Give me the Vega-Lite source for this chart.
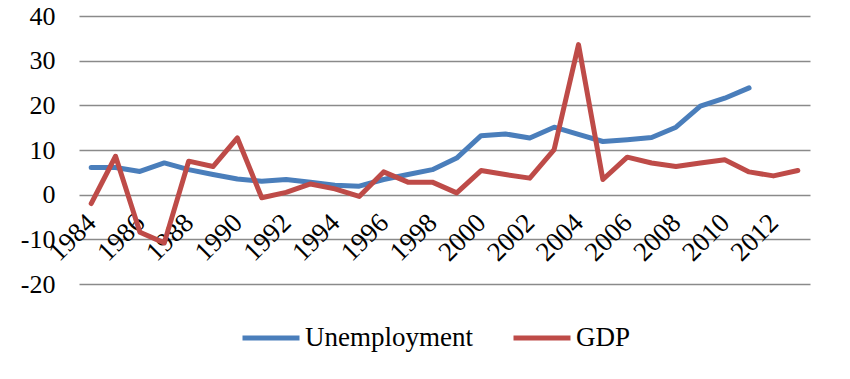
{
  "$schema": "https://vega.github.io/schema/vega-lite/v6.json",
  "autosize": "none",
  "width": 731,
  "height": 268,
  "padding": {"left": 79, "top": 16, "right": 40, "bottom": 95},
  "background": "white",
  "config": {
    "view": {"stroke": null},
    "font": "Liberation Serif",
    "axis": {"labelFont": "Liberation Serif"},
    "legend": {"labelFont": "Liberation Serif"}
  },
  "data": {
    "values": [
      {"year": "1984", "series": "Unemployment", "value": 6.1},
      {"year": "1985", "series": "Unemployment", "value": 6.1},
      {"year": "1986", "series": "Unemployment", "value": 5.2},
      {"year": "1987", "series": "Unemployment", "value": 7.1},
      {"year": "1988", "series": "Unemployment", "value": 5.6},
      {"year": "1989", "series": "Unemployment", "value": 4.5},
      {"year": "1990", "series": "Unemployment", "value": 3.5},
      {"year": "1991", "series": "Unemployment", "value": 3.0},
      {"year": "1992", "series": "Unemployment", "value": 3.4},
      {"year": "1993", "series": "Unemployment", "value": 2.8},
      {"year": "1994", "series": "Unemployment", "value": 2.1},
      {"year": "1995", "series": "Unemployment", "value": 1.9},
      {"year": "1996", "series": "Unemployment", "value": 3.4},
      {"year": "1997", "series": "Unemployment", "value": 4.5},
      {"year": "1998", "series": "Unemployment", "value": 5.6},
      {"year": "1999", "series": "Unemployment", "value": 8.2},
      {"year": "2000", "series": "Unemployment", "value": 13.2},
      {"year": "2001", "series": "Unemployment", "value": 13.6},
      {"year": "2002", "series": "Unemployment", "value": 12.7},
      {"year": "2003", "series": "Unemployment", "value": 15.1},
      {"year": "2004", "series": "Unemployment", "value": 13.5},
      {"year": "2005", "series": "Unemployment", "value": 11.9},
      {"year": "2006", "series": "Unemployment", "value": 12.3},
      {"year": "2007", "series": "Unemployment", "value": 12.8},
      {"year": "2008", "series": "Unemployment", "value": 15.1},
      {"year": "2009", "series": "Unemployment", "value": 19.8},
      {"year": "2010", "series": "Unemployment", "value": 21.6},
      {"year": "2011", "series": "Unemployment", "value": 23.9},
      {"year": "1984", "series": "GDP", "value": -2.0},
      {"year": "1985", "series": "GDP", "value": 8.6},
      {"year": "1986", "series": "GDP", "value": -8.4},
      {"year": "1987", "series": "GDP", "value": -10.8},
      {"year": "1988", "series": "GDP", "value": 7.5},
      {"year": "1989", "series": "GDP", "value": 6.3},
      {"year": "1990", "series": "GDP", "value": 12.7},
      {"year": "1991", "series": "GDP", "value": -0.7},
      {"year": "1992", "series": "GDP", "value": 0.5},
      {"year": "1993", "series": "GDP", "value": 2.4},
      {"year": "1994", "series": "GDP", "value": 1.3},
      {"year": "1995", "series": "GDP", "value": -0.4},
      {"year": "1996", "series": "GDP", "value": 5.1},
      {"year": "1997", "series": "GDP", "value": 2.8},
      {"year": "1998", "series": "GDP", "value": 2.8},
      {"year": "1999", "series": "GDP", "value": 0.4},
      {"year": "2000", "series": "GDP", "value": 5.4},
      {"year": "2001", "series": "GDP", "value": 4.5},
      {"year": "2002", "series": "GDP", "value": 3.7},
      {"year": "2003", "series": "GDP", "value": 10.1},
      {"year": "2004", "series": "GDP", "value": 33.6},
      {"year": "2005", "series": "GDP", "value": 3.4},
      {"year": "2006", "series": "GDP", "value": 8.4},
      {"year": "2007", "series": "GDP", "value": 7.1},
      {"year": "2008", "series": "GDP", "value": 6.3},
      {"year": "2009", "series": "GDP", "value": 7.1},
      {"year": "2010", "series": "GDP", "value": 7.8},
      {"year": "2011", "series": "GDP", "value": 5.1},
      {"year": "2012", "series": "GDP", "value": 4.2},
      {"year": "2013", "series": "GDP", "value": 5.4}
    ]
  },
  "mark": {"type": "line", "strokeWidth": 5, "strokeCap": "round", "strokeJoin": "round"},
  "encoding": {
    "x": {
      "field": "year",
      "type": "ordinal",
      "scale": {"padding": 0.5},
      "axis": {
        "title": null,
        "values": ["1984","1986","1988","1990","1992","1994","1996","1998","2000","2002","2004","2006","2008","2010","2012"],
        "labelAngle": -45,
        "labelAlign": "right",
        "labelBaseline": "top",
        "labelFontSize": 27,
        "labelColor": "black",
        "labelPadding": 14,
        "labelOffset": -9,
        "labelLimit": 300,
        "offset": -89,
        "ticks": false,
        "domain": false,
        "grid": false
      }
    },
    "y": {
      "field": "value",
      "type": "quantitative",
      "scale": {"domain": [-20, 40], "nice": false, "zero": false},
      "axis": {
        "title": null,
        "values": [-20, -10, 0, 10, 20, 30, 40],
        "labelExpr": "'' + datum.value",
        "labelFontSize": 26,
        "labelColor": "black",
        "labelPadding": 24,
        "ticks": false,
        "domain": false,
        "gridColor": "#8a8a8a",
        "gridWidth": 1.5,
        "gridOpacity": 1
      }
    },
    "color": {
      "field": "series",
      "type": "nominal",
      "scale": {"domain": ["Unemployment", "GDP"], "range": ["#4A7EBB", "#BE4B48"]},
      "legend": {
        "title": null,
        "orient": "none",
        "direction": "horizontal",
        "legendX": 161,
        "legendY": 291,
        "symbolType": "stroke",
        "symbolSize": 3249,
        "symbolStrokeWidth": 5,
        "labelFontSize": 27,
        "labelLimit": 400,
        "labelColor": "black",
        "labelOffset": 3,
        "columnPadding": 30
      }
    }
  }
}
